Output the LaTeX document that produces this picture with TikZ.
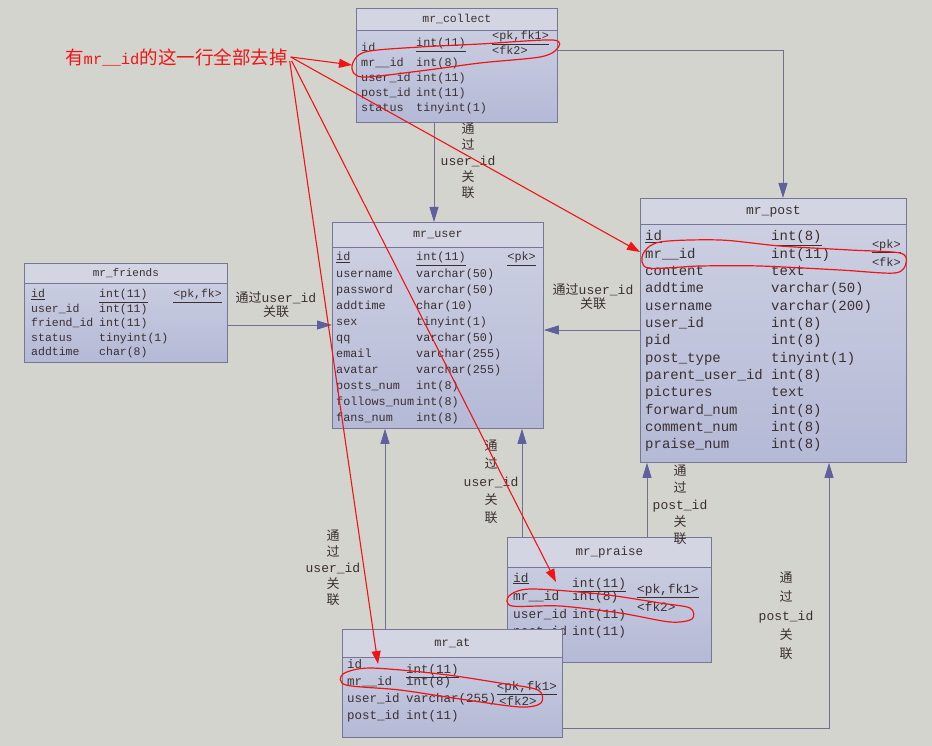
\documentclass[tikz,border=0pt]{standalone}
\usepackage{fontspec}
\setmonofont{Liberation Mono}
\newfontfamily\cjk{Noto Sans CJK SC}
\usepackage{tikz}
\usetikzlibrary{arrows.meta,positioning}

\definecolor{paper}{RGB}{212,212,207}
\definecolor{tblline}{RGB}{118,118,150}
\definecolor{tbltop}{RGB}{207,210,227}
\definecolor{tblbot}{RGB}{180,185,214}
\definecolor{hdrfill}{RGB}{211,213,227}
\definecolor{ink}{RGB}{58,48,48}
\definecolor{linkc}{RGB}{112,112,150}
\definecolor{tipc}{RGB}{96,96,158}
\definecolor{marker}{RGB}{240,20,20}

\newcommand{\zh}[1]{{\cjk #1}}

\begin{document}
\begin{tikzpicture}[x=1pt, y=-1pt,
  tbl/.style={draw=tblline, line width=0.8pt, top color=tbltop, bottom color=tblbot, anchor=north west, inner sep=0pt},
  hdr/.style={draw=tblline, line width=0.8pt, fill=hdrfill, anchor=north west, inner sep=0pt},
  ttl/.style={text=ink, inner sep=0pt, font=\ttfamily\fontsize{#1}{#1}\selectfont},
  ttl/.default=12,
  fld/.style={anchor=base west, text=ink, inner sep=0pt, font=\ttfamily\fontsize{#1}{#1}\selectfont},
  fld/.default=12,
  keyr/.style={anchor=base east, text=ink, inner sep=0pt, font=\ttfamily\fontsize{#1}{#1}\selectfont},
  keyr/.default=12,
  link/.style={draw=linkc, line width=0.9pt, -{Triangle[length=15pt, width=9pt, color=tipc]}},
  lbl/.style={text=ink, align=center, inner sep=0pt, font=\ttfamily\fontsize{13}{#1}\selectfont},
  lbl/.default=16,
  hint/.style={text=marker, anchor=west, inner sep=0pt},
  hintarrow/.style={draw=marker, line width=1.1pt, -{Triangle[length=13pt, width=9pt]}},
  redloop/.style={draw=marker, line width=1.2pt}
]
\useasboundingbox (0,0) rectangle (932,746);
\fill[paper] (0,0) rectangle (932,746);

% mr_collect
\node[tbl, minimum width=201pt, minimum height=114pt] (collect) at (356,8) {};
\node[hdr, minimum width=201pt, minimum height=22pt] (collect-h) at (356,8) {};
\node[ttl=11.5] (collect-title) at (collect-h) {mr\_collect};
\node[fld=11.8] (collect-n1) at (361,52) {id};
\node[fld=11.8] (collect-t1) at (416,47) {\underline{int(11)}};
\foreach \n/\t [count=\i from 2] in {mr\_\_id/int(8), user\_id/int(11), post\_id/int(11), status/tinyint(1)} {
  \node[fld=11.8] (collect-n\i) at (361,{52+(\i-1)*15}) {\n};
  \node[fld=11.8] (collect-t\i) at (416,{52+(\i-1)*15}) {\t};
}
\node[fld=11.8] (collect-k1) at (492,40) {\underline{<pk,fk1>}};
\node[fld=11.8] (collect-k2) at (492,55) {<fk2>};

% mr_friends
\node[tbl, minimum width=203pt, minimum height=99pt] (friends) at (24,263) {};
\node[hdr, minimum width=203pt, minimum height=20pt] (friends-h) at (24,263) {};
\node[ttl=11] (friends-title) at (friends-h) {mr\_friends};
\node[fld=11.5] (friends-n1) at (31,298) {\underline{id}};
\node[fld=11.5] (friends-t1) at (99,298) {\underline{int(11)}};
\foreach \n/\t [count=\i from 2] in {user\_id/int(11), friend\_id/int(11), status/tinyint(1), addtime/char(8)} {
  \node[fld=11.5] (friends-n\i) at (31,{298+(\i-1)*14.4}) {\n};
  \node[fld=11.5] (friends-t\i) at (99,{298+(\i-1)*14.4}) {\t};
}
\node[keyr=11.5] (friends-k1) at (222,298) {\underline{<pk,fk>}};

% mr_user
\node[tbl, minimum width=211pt, minimum height=206pt] (user) at (332,222) {};
\node[hdr, minimum width=211pt, minimum height=25pt] (user-h) at (332,222) {};
\node[ttl=11.8] (user-title) at (user-h) {mr\_user};
\node[fld=11.8] (user-n1) at (336,261) {\underline{id}};
\node[fld=11.8] (user-t1) at (416,261) {\underline{int(11)}};
\foreach \n/\t [count=\i from 2] in {username/varchar(50), password/varchar(50), addtime/char(10), sex/tinyint(1), qq/varchar(50), email/varchar(255), avatar/varchar(255), posts\_num/int(8), follows\_num/int(8), fans\_num/int(8)} {
  \node[fld=11.8] (user-n\i) at (336,{261+(\i-1)*16}) {\n};
  \node[fld=11.8] (user-t\i) at (416,{261+(\i-1)*16}) {\t};
}
\node[keyr=11.8] (user-k1) at (536,261) {\underline{<pk>}};

% mr_post
\node[tbl, minimum width=266pt, minimum height=264pt] (post) at (640,198) {};
\node[hdr, minimum width=266pt, minimum height=26pt] (post-h) at (640,198) {};
\node[ttl=13] (post-title) at (post-h) {mr\_post};
\node[fld=14] (post-n1) at (645,241) {\underline{id}};
\node[fld=14] (post-t1) at (771,241) {\underline{int(8)}};
\foreach \n/\t [count=\i from 2] in {mr\_\_id/int(11), content/text, addtime/varchar(50), username/varchar(200), user\_id/int(8), pid/int(8), post\_type/tinyint(1), parent\_user\_id/int(8), pictures/text, forward\_num/int(8), comment\_num/int(8), praise\_num/int(8)} {
  \node[fld=14] (post-n\i) at (645,{241+(\i-1)*17.3}) {\n};
  \node[fld=14] (post-t\i) at (771,{241+(\i-1)*17.3}) {\t};
}
\node[keyr=12] (post-k1) at (901,248) {\underline{<pk>}};
\node[keyr=12] (post-k2) at (901,266) {<fk>};

% mr_praise
\node[tbl, minimum width=204pt, minimum height=125pt] (praise) at (507,537) {};
\node[hdr, minimum width=204pt, minimum height=30pt] (praise-h) at (507,537) {};
\node[ttl=12.5] (praise-title) at (praise-h) {mr\_praise};
\node[fld=12.8] (praise-n1) at (513,582) {\underline{id}};
\node[fld=12.8] (praise-t1) at (572,587) {\underline{int(11)}};
\foreach \n/\t [count=\i from 2] in {mr\_\_id/int(8), user\_id/int(11), post\_id/int(11)} {
  \node[fld=12.8] (praise-n\i) at (513,{583+(\i-1)*17.5}) {\n};
  \node[fld=12.8] (praise-t\i) at (572,{583+(\i-1)*17.5}) {\t};
}
\node[fld=12.8] (praise-k1) at (637,593) {\underline{<pk,fk1>}};
\node[fld=12.8] (praise-k2) at (637,611) {<fk2>};

% mr_at
\node[tbl, minimum width=220pt, minimum height=108pt] (at) at (342,629) {};
\node[hdr, minimum width=220pt, minimum height=28pt] (at-h) at (342,629) {};
\node[ttl=12] (at-title) at (at-h) {mr\_at};
\node[fld=12.5] (at-n1) at (347,668) {id};
\node[fld=12.5] (at-t1) at (406,673) {\underline{int(11)}};
\foreach \n/\t [count=\i from 2] in {mr\_\_id/int(8), user\_id/varchar(255), post\_id/int(11)} {
  \node[fld=12.5] (at-n\i) at (347,{668+(\i-1)*17}) {\n};
  \node[fld=12.5] (at-t\i) at (406,{668+(\i-1)*17}) {\t};
}
\node[keyr=12.5] (at-k1) at (557,690) {\underline{<pk,fk1>}};
\node[fld=12.5] (at-k2) at (499,705) {<fk2>};

% relations
\draw[link] (434,0 |- collect.south) -- (434,0 |- user.north);
\draw[link] (collect.east |- 0,50) -| (783,0 |- post.north);
\draw[link] (friends.east |- 0,325) -- (user.west |- 0,325);
\draw[link] (post.west |- 0,330) -- (user.east |- 0,330);
\draw[link] (522,0 |- praise.north) -- (522,0 |- user.south);
\draw[link] (647,0 |- praise.north) -- (647,0 |- post.south);
\draw[link] (385,0 |- at.north) -- (385,0 |- user.south);
\draw[link] (at.east |- 0,728) -| (829,0 |- post.south);

\node[lbl] (via-cu) at (468,161) {\zh{通}\\\zh{过}\\user\_id\\\zh{关}\\\zh{联}};
\node[lbl=14] (via-fu) at (276,305) {\zh{通过}user\_id\\\zh{关联}};
\node[lbl=14] (via-pu) at (593,297) {\zh{通过}user\_id\\\zh{关联}};
\node[lbl=18] (via-ru) at (491,482) {\zh{通}\\\zh{过}\\user\_id\\\zh{关}\\\zh{联}};
\node[lbl=17] (via-rp) at (680,505) {\zh{通}\\\zh{过}\\post\_id\\\zh{关}\\\zh{联}};
\node[lbl=16] (via-au) at (333,568) {\zh{通}\\\zh{过}\\user\_id\\\zh{关}\\\zh{联}};
\node[lbl=19] (via-ap) at (786,616) {\zh{通}\\\zh{过}\\post\_id\\\zh{关}\\\zh{联}};

% red marks
\draw[redloop] plot[smooth cycle] coordinates {(352,66) (365,52) (420,47) (480,44) (553,40) (557,49) (540,57) (480,63) (420,71) (362,77)};
\draw[redloop] plot[smooth cycle] coordinates {(643,254) (660,242) (720,240) (780,246) (850,250) (900,253) (906,263) (895,273) (840,270) (760,266) (700,266) (648,268)};
\draw[redloop] plot[smooth cycle] coordinates {(509,596) (530,589) (600,594) (660,603) (690,608) (692,619) (670,622) (620,613) (560,606) (512,606)};
\draw[redloop] plot[smooth cycle] coordinates {(343,674) (370,668) (440,674) (500,683) (538,690) (541,703) (520,707) (460,699) (400,690) (346,685)};

\node[hint] (hint) at (65,57) {\zh{\fontsize{18.5}{20}\selectfont 有}{\ttfamily\fontsize{15.5}{20}\selectfont mr\_\_id}\zh{\fontsize{18.5}{20}\selectfont 的这一行全部去掉}};
\coordinate (m-collect) at (352,65);
\coordinate (m-post) at (640,252);
\coordinate (m-praise) at (556,582);
\coordinate (m-at) at (378,664);
\draw[hintarrow] ([xshift=3pt]hint.east) -- (m-collect);
\draw[hintarrow] ([xshift=3pt]hint.east) -- (m-post);
\draw[hintarrow] ([xshift=4pt,yshift=-4pt]hint.east) -- (m-praise);
\draw[hintarrow] ([xshift=2pt,yshift=-4pt]hint.east) -- (m-at);
\end{tikzpicture}
\end{document}
